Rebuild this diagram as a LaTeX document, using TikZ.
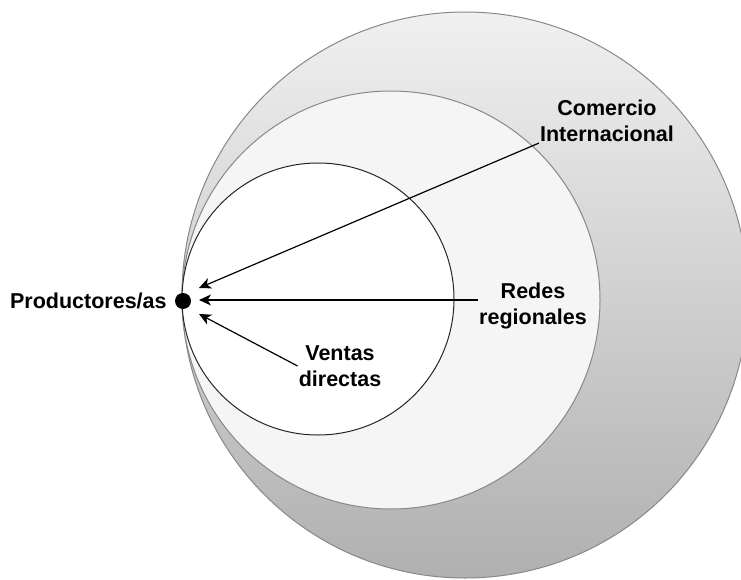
\documentclass[tikz,border=0pt]{standalone}
\usepackage{fontspec}
\setmainfont{Liberation Sans}
\usepackage{xcolor}
\usepackage{tikz}
\usetikzlibrary{arrows.meta, positioning}
\definecolor{ringgray}{RGB}{136, 136, 136}
\definecolor{ringtop}{RGB}{240, 240, 240}
\definecolor{ringbottom}{RGB}{176, 176, 176}
\definecolor{midfill}{RGB}{245, 245, 245}

\begin{document}
\begin{tikzpicture}[
    x=1pt, y=-1pt,
    ring/.style={circle, inner sep=0pt, outer sep=0pt, line width=1pt},
    label/.style={align=center, inner sep=1pt, font=\fontsize{21.5}{26}\selectfont\bfseries},
    arrow/.style={{Stealth[length=12pt, width=11pt, inset=3.5pt]}-, line width=1.2pt, black}
]
    \useasboundingbox (0,0) rectangle (741,580);
    % Circles
    \node[ring, draw=ringgray, top color=ringtop, bottom color=ringbottom, minimum size=566pt] (outer) at (465,295) {};
    \node[ring, draw=ringgray, fill=midfill, minimum size=418pt] (middle) at (391,300) {};
    \node[ring, draw=black!85, fill=white, minimum size=272pt] (inner) at (318,299) {};
    \node[circle, fill=black, inner sep=0pt, minimum size=16pt] (dot) at (183,301) {};

    % Labels
    \node[label, left=7pt of dot] (prod) {Productores/as};
    \node[label] (comercio) at (607,121) {Comercio\\Internacional};
    \node[label] (redes) at (533,306) {Redes\\regionales};
    \node[label] (ventas) at (340,366) {Ventas\\directas};
    \coordinate (tipA) at (199,288);
    \coordinate (tipB) at (199,300);
    \coordinate (tipC) at (199,314);

    % Paths
    \draw[arrow] (tipA) -- (comercio.south west);
    \draw[arrow] (tipB) -- (redes.west |- tipB);
    \draw[arrow] (tipC) -- (ventas.west);
\end{tikzpicture}
\end{document}
